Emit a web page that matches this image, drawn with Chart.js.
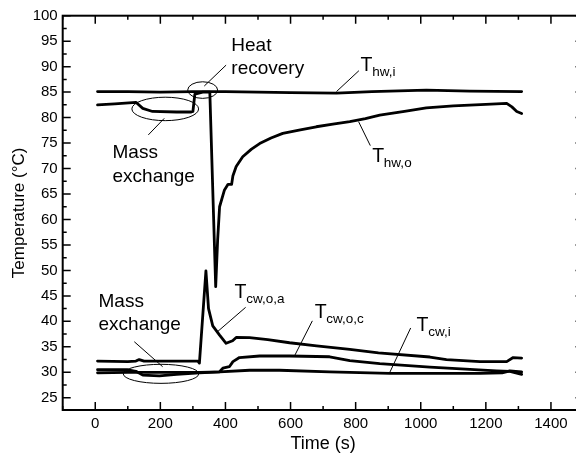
<!DOCTYPE html>
<html><head><meta charset="utf-8">
<script src="https://cdn.jsdelivr.net/npm/chart.js@4"></script>
<style>html,body{margin:0;padding:0;overflow:hidden;background:#fff}#wrap{width:600px;height:455px;position:relative}</style>
</head><body><div id="wrap"><canvas id="c"></canvas></div>
<script>
// ---- data (time in s, temperature in °C) ----
const timeHwIn = [7, 100, 200, 300, 400, 500, 600, 741, 850, 1017, 1150, 1310];
const tempHwIn = [85.1, 85.1, 85.0, 85.1, 85.1, 85.0, 84.9, 84.8, 85.1, 85.4, 85.2, 85.1];

const timeHwOut = [7, 60, 125, 146, 176, 250, 295, 300, 306, 330, 352, 370, 376, 382, 397, 408, 419, 423, 433, 453, 480, 505, 540, 576, 630, 679, 730, 782, 830, 874, 950, 1017, 1100, 1200, 1264, 1280, 1295, 1310];
const tempHwOut = [82.5, 82.7, 83.0, 81.8, 81.2, 81.1, 81.1, 81.2, 84.6, 85.0, 85.0, 46.8, 56.0, 62.5, 65.8, 66.9, 66.9, 68.6, 70.4, 72.3, 73.8, 74.9, 76.0, 76.9, 77.6, 78.2, 78.7, 79.2, 79.8, 80.5, 81.2, 81.9, 82.3, 82.6, 82.8, 82.1, 81.2, 80.8];

const timeCwOutA = [7, 100, 125, 135, 150, 200, 250, 315, 320, 340, 348, 361, 382, 402, 422, 433, 474, 530, 597, 680, 782, 870, 1028, 1079, 1182, 1264, 1284, 1310];
const tempCwOutA = [32.2, 32.1, 32.2, 32.5, 32.2, 32.2, 32.2, 32.2, 31.8, 49.9, 42.5, 39.1, 37.3, 35.7, 36.2, 36.85, 36.8, 36.4, 35.8, 35.2, 34.5, 33.8, 33.0, 32.5, 32.1, 32.1, 32.9, 32.8];

const timeCwOutC = [7, 100, 125, 146, 197, 250, 320, 382, 392, 412, 423, 443, 505, 597, 720, 782, 874, 1028, 1233, 1274, 1310];
const tempCwOutC = [30.5, 30.5, 30.2, 29.45, 29.3, 29.6, 29.9, 30.1, 30.8, 31.1, 32.1, 32.9, 33.2, 33.2, 33.05, 32.3, 31.7, 31.0, 30.3, 30.2, 29.6];

const timeCwIn = [7, 100, 200, 320, 382, 474, 566, 720, 905, 1000, 1182, 1250, 1274, 1310];
const tempCwIn = [29.9, 30.0, 30.0, 30.0, 30.1, 30.4, 30.4, 30.1, 29.8, 29.8, 29.8, 29.9, 30.3, 30.1];

const xTickValues = [0, 200, 400, 600, 800, 1000, 1200, 1400];
const yTickValues = [25, 30, 35, 40, 45, 50, 55, 60, 65, 70, 75, 80, 85, 90, 95, 100];

const FONT = '"Liberation Sans", Arial, Helvetica, sans-serif';

function pts(ts, vs) { return ts.map((t, i) => ({x: t, y: vs[i]})); }

const annot = {
  id: 'annot',
  afterDraw(chart) {
    const ctx = chart.ctx;
    const xs = chart.scales.x, ys = chart.scales.y;
    const X = v => xs.getPixelForValue(v), Y = v => ys.getPixelForValue(v);
    const a = chart.chartArea;
    ctx.save();
    ctx.strokeStyle = '#000'; ctx.fillStyle = '#000';
    // frame
    ctx.lineWidth = 2;
    ctx.strokeRect(a.left, a.top, a.right - a.left, a.bottom - a.top);
    // ticks (inward), major and minor
    ctx.lineWidth = 1.5;
    ctx.beginPath();
    for (let v = -100; v <= 1500; v += 100) {
      const p = X(v); const L = (v % 200 === 0) ? 8 : 4;
      ctx.moveTo(p, a.bottom); ctx.lineTo(p, a.bottom - L);
      ctx.moveTo(p, a.top); ctx.lineTo(p, a.top + L);
    }
    for (let v = 25; v <= 100; v += 2.5) {
      const p = Y(v); const L = (v % 5 === 0) ? 8 : 4;
      ctx.moveTo(a.left, p); ctx.lineTo(a.left + L, p);
      ctx.moveTo(a.right, p); ctx.lineTo(a.right - L, p);
    }
    ctx.stroke();

    // ellipses
    ctx.lineWidth = 1;
    const ell = (t, T, rt, rT) => {
      ctx.beginPath();
      ctx.ellipse(X(t), Y(T), Math.abs(X(t + rt) - X(t)), Math.abs(Y(T + rT) - Y(T)), 0, 0, Math.PI * 2);
      ctx.stroke();
    };
    ell(330, 85.4, 46, 1.63);
    ell(215, 81.7, 102.5, 2.3);
    ell(202, 29.7, 116, 1.87);

    // leader lines
    const seg = (t1, T1, t2, T2) => {
      ctx.beginPath(); ctx.moveTo(X(t1), Y(T1)); ctx.lineTo(X(t2), Y(T2)); ctx.stroke();
    };
    seg(335, 86.2, 402, 90.3);
    seg(212, 79.85, 163, 76.6);
    seg(120, 36.0, 207, 31.1);
    seg(376, 38.0, 462, 42.75);
    seg(612, 33.2, 667, 40.1);
    seg(905, 30.0, 969, 38.7);
    seg(741, 85.1, 810, 89.2);
    seg(809, 79.2, 845, 74.5);

    // text labels
    ctx.textBaseline = 'alphabetic'; ctx.textAlign = 'left';
    ctx.font = '19px ' + FONT;
    ctx.fillText('Heat', X(418), Y(93.1));
    ctx.fillText('recovery', X(418), Y(88.55));
    ctx.fillText('Mass', X(53), Y(72.0));
    ctx.fillText('exchange', X(53), Y(67.4));
    ctx.fillText('Mass', X(10), Y(42.75));
    ctx.fillText('exchange', X(10), Y(38.3));

    const tlab = (t, T, sub) => {
      ctx.font = '19.5px ' + FONT;
      const x = X(t), y = Y(T);
      ctx.fillText('T', x, y);
      const w = ctx.measureText('T').width;
      ctx.font = '13.5px ' + FONT;
      ctx.fillText(sub, x + w - 0.3, y + 5);
    };
    tlab(428, 44.5, 'cw,o,a');
    tlab(674, 40.6, 'cw,o,c');
    tlab(987, 38.1, 'cw,i');
    tlab(815, 89.2, 'hw,i');
    tlab(851, 71.2, 'hw,o');
    ctx.restore();
  }
};

const mk = (ts, vs) => ({data: pts(ts, vs), borderColor: '#000', borderWidth: 2.8, pointRadius: 0, tension: 0, fill: false, borderJoinStyle: 'round', borderCapStyle: 'round'});

new Chart(document.getElementById('c'), {
  type: 'line',
  data: {datasets: [
    mk(timeHwIn, tempHwIn),
    mk(timeHwOut, tempHwOut),
    mk(timeCwOutA, tempCwOutA),
    mk(timeCwOutC, tempCwOutC),
    mk(timeCwIn, tempCwIn)
  ]},
  options: {
    responsive: true, maintainAspectRatio: false, animation: false, devicePixelRatio: 1,
    layout: {padding: {top: 15.7, right: 16.5, left: 0, bottom: 0}},
    plugins: {legend: {display: false}, tooltip: {enabled: false}},
    scales: {
      x: {
        type: 'linear', min: -100, max: 1500,
        grid: {display: false, drawTicks: false}, border: {display: false},
        ticks: {color: '#000', font: {size: 15, family: FONT}, padding: 5, autoSkip: false, maxRotation: 0, callback: v => String(v)},
        afterBuildTicks: s => { s.ticks = xTickValues.map(v => ({value: v})); },
        afterFit: s => { s.height = 45; },
        title: {display: true, text: 'Time (s)', color: '#000', font: {size: 18, family: FONT}, padding: {top: 0, bottom: 0}}
      },
      y: {
        type: 'linear', min: 22.6, max: 100,
        grid: {display: false, drawTicks: false}, border: {display: false},
        ticks: {color: '#000', font: {size: 15, family: FONT}, padding: 5, autoSkip: false, callback: v => String(v)},
        afterBuildTicks: s => { s.ticks = yTickValues.map(v => ({value: v})); },
        afterFit: s => { s.width = 62.7; },
        title: {display: true, text: 'Temperature (°C)', color: '#000', font: {size: 17, family: FONT}, padding: {top: 9, bottom: 0}}
      }
    }
  },
  plugins: [annot]
});
</script></body></html>
